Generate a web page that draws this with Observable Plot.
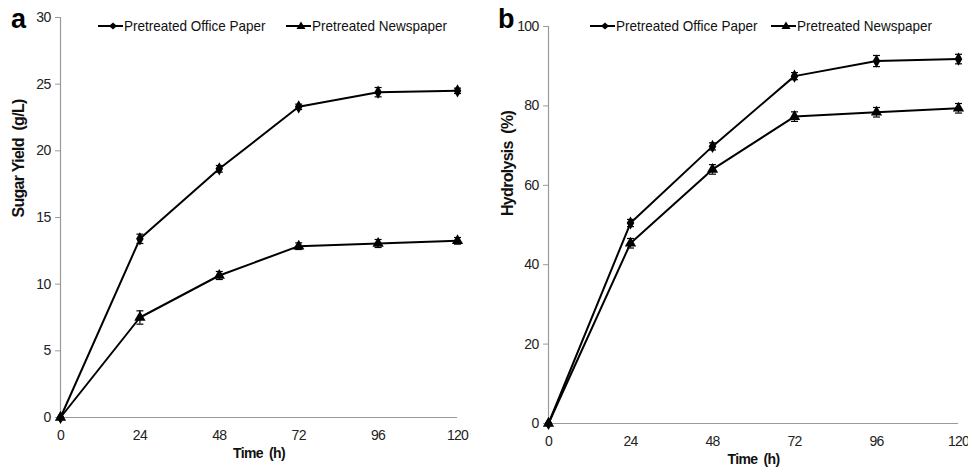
<!DOCTYPE html>
<html>
<head>
<meta charset="utf-8">
<script src="https://cdn.jsdelivr.net/npm/d3@7"></script>
<script src="https://cdn.jsdelivr.net/npm/@observablehq/plot@0.6"></script>
<style>
  html, body { margin: 0; padding: 0; background: #fff; }
  #wrap { position: relative; width: 968px; height: 467px; overflow: hidden;
    font-family: "Liberation Sans Narrow", "Arial Narrow", "Liberation Sans", Arial, sans-serif; }
  .panel { position: absolute; top: 0; }
  .panel text { letter-spacing: -0.7px; }
  .panel g[aria-label="ylab"] text { letter-spacing: 0.6px; }
  .panel g[aria-label="xlab"] text { letter-spacing: -0.5px; }
  .letter { position: absolute; font-family: "Liberation Sans", Arial, sans-serif; font-weight: bold; font-size: 27px; color: #000; line-height: 1; }
  .leg { position: absolute; display: flex; align-items: center; font-size: 15px; color: #111; white-space: nowrap; }
  .leg svg { display: block; margin-right: 1px; }
  .leg span { display: inline-block; transform: scaleX(0.9); transform-origin: left center; }
</style>
</head>
<body>
<div id="wrap"></div>
<script>
// ---- data ----
const times = [0, 24, 48, 72, 96, 120];
const seriesNames = ["Pretreated Office Paper", "Pretreated Newspaper"];

const sugarOffice    = [0, 13.4, 18.65, 23.3, 24.4, 24.5];
const sugarOfficeErr = [0, 0.35, 0.25, 0.2, 0.35, 0.2];
const sugarNews      = [0, 7.5, 10.65, 12.85, 13.05, 13.25];
const sugarNewsErr   = [0, 0.5, 0.3, 0.25, 0.3, 0.25];

const hydroOffice    = [0, 50.5, 69.8, 87.5, 91.3, 91.8];
const hydroOfficeErr = [0, 0.9, 0.9, 0.9, 1.4, 1.2];
const hydroNews      = [0, 45.4, 64.0, 77.3, 78.4, 79.4];
const hydroNewsErr   = [0, 1.2, 1.2, 1.2, 1.2, 1.2];

const xTicks = [0, 24, 48, 72, 96, 120];
const sugarTicks = [0, 5, 10, 15, 20, 25, 30];
const hydroTicks = [0, 20, 40, 60, 80, 100];

function rows(vals, errs, name) {
  return times.map((t, i) => ({t, v: vals[i], e: errs[i], s: name}));
}

const capSymbol = { draw(ctx) { ctx.moveTo(-3.5, 0); ctx.lineTo(3.5, 0); } };
const FONT = '"Liberation Sans Narrow", "Arial Narrow", "Liberation Sans", Arial, sans-serif';

function panel(opts) {
  const {data1, data2, yDomain, yTicks, yLabel, width, height, mL, mR, mT, mB, yLabelDx, yLabelDy} = opts;
  const all = data1.concat(data2);
  const markers = [
    Plot.ruleX([0], {stroke: "#9a9a9a", strokeWidth: 1.2}),
    Plot.ruleY([0], {stroke: "#9a9a9a", strokeWidth: 1.2}),
    Plot.axisY({ticks: yTicks, tickSize: 5, tickPadding: 5, stroke: "#9a9a9a", fill: "#222", fontSize: 14, label: null, fontFamily: FONT}),
    Plot.axisX({ticks: xTicks, tickSize: 0, tickPadding: 13, fill: "#222", fontSize: 14, label: null, fontFamily: FONT}),
    Plot.line(data1, {x: "t", y: "v", stroke: "#000", strokeWidth: 2}),
    Plot.line(data2, {x: "t", y: "v", stroke: "#000", strokeWidth: 2}),
    Plot.ruleX(all, {x: "t", y1: d => d.v - d.e, y2: d => d.v + d.e, stroke: "#000", strokeWidth: 1.2}),
    Plot.dot(all, {x: "t", y: d => d.v + d.e, symbol: capSymbol, stroke: "#000", strokeWidth: 1.2, r: 3}),
    Plot.dot(all, {x: "t", y: d => d.v - d.e, symbol: capSymbol, stroke: "#000", strokeWidth: 1.2, r: 3}),
    Plot.dot(data1, {x: "t", y: "v", symbol: "diamond", fill: "#000", r: 4}),
    Plot.dot(data2, {x: "t", y: "v", symbol: "triangle", fill: "#000", r: 4.2}),
    Plot.text(["Time  (h)"], {frameAnchor: "bottom", dy: 40, fontWeight: "bold", fontSize: 14, fill: "#111", fontFamily: FONT, ariaLabel: "xlab"}),
    Plot.text([yLabel], {frameAnchor: "left", rotate: -90, dx: yLabelDx, dy: yLabelDy, fontWeight: "bold", fontSize: 16, fill: "#111", fontFamily: "\"Liberation Sans\", Arial, sans-serif", ariaLabel: "ylab"})
  ];
  return Plot.plot({
    width, height,
    marginLeft: mL, marginRight: mR, marginTop: mT, marginBottom: mB,
    style: {background: "transparent", fontFamily: FONT, overflow: "visible"},
    x: {domain: [0, 120]},
    y: {domain: yDomain},
    marks: markers
  });
}

const wrap = document.getElementById("wrap");

const left = panel({
  data1: rows(sugarOffice, sugarOfficeErr, seriesNames[0]),
  data2: rows(sugarNews, sugarNewsErr, seriesNames[1]),
  yDomain: [0, 30], yTicks: sugarTicks, yLabel: "Sugar Yield  (g/L)",
  width: 480, height: 467, mL: 60, mR: 23, mT: 17, mB: 50, yLabelDx: -42, yLabelDy: 0
});
left.classList.add("panel");
left.style.left = "0px";
wrap.appendChild(left);

const right = panel({
  data1: rows(hydroOffice, hydroOfficeErr, seriesNames[0]),
  data2: rows(hydroNews, hydroNewsErr, seriesNames[1]),
  yDomain: [0, 100], yTicks: hydroTicks, yLabel: "Hydrolysis  (%)",
  width: 478, height: 467, mL: 58, mR: 10, mT: 26, mB: 44, yLabelDx: -41, yLabelDy: -9
});
right.classList.add("panel");
right.style.left = "490px";
wrap.appendChild(right);

// panel letters
function letter(txt, x, y) {
  const d = document.createElement("div");
  d.className = "letter"; d.textContent = txt;
  d.style.left = x + "px"; d.style.top = y + "px";
  wrap.appendChild(d);
}
letter("a", 11, 6);
letter("b", 498, 6);

// legends
function legendItem(name, symbol, x, y) {
  const d = document.createElement("div");
  d.className = "leg";
  d.style.left = x + "px"; d.style.top = (y - 10) + "px";
  const sym = symbol === "diamond"
    ? '<polygon points="15,1.5 19,5 15,8.5 11,5" fill="#000"/>'
    : '<polygon points="15,0.5 19.5,8 10.5,8" fill="#000"/>';
  d.innerHTML = '<svg width="25" height="10" viewBox="0 0 25 10"><line x1="0" y1="5" x2="25" y2="5" stroke="#000" stroke-width="2"/>' + sym + '</svg><span>' + name + '</span>';
  wrap.appendChild(d);
}
legendItem(seriesNames[0], "diamond", 98, 27);
legendItem(seriesNames[1], "triangle", 286, 27);
legendItem(seriesNames[0], "diamond", 590, 27);
legendItem(seriesNames[1], "triangle", 771, 27);
</script>
</body>
</html>
